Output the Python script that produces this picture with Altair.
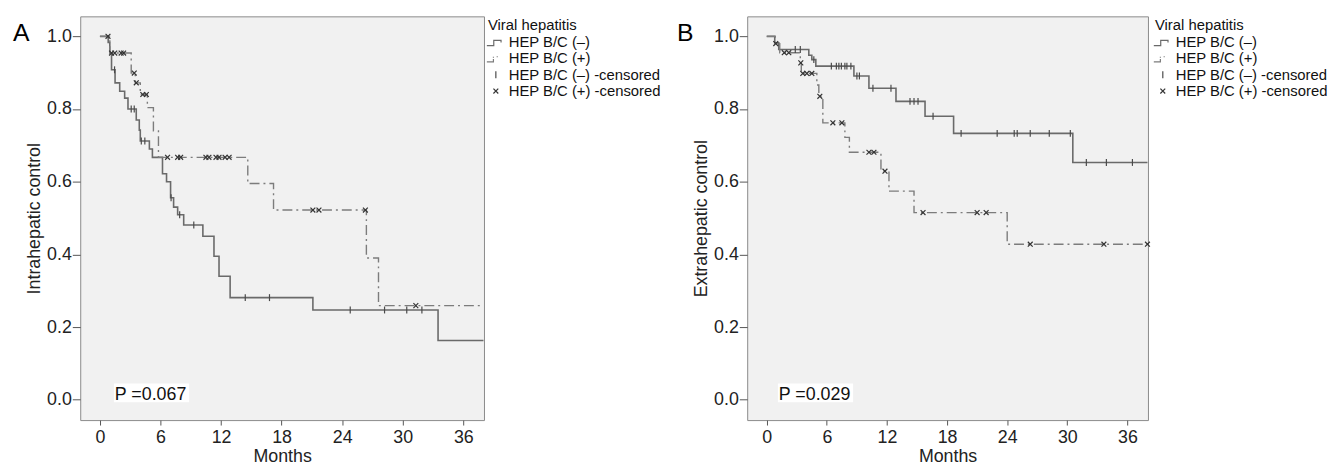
import altair as alt
import pandas as pd
import numpy as np

FONT = "Liberation Sans"

LEGEND_LABELS = ["HEP B/C (–)", "HEP B/C (+)", "HEP B/C (–) -censored", "HEP B/C (+) -censored"]
LEGEND_SHAPES = [
    "M-1.3,0.5H-0.3V-0.25H0.75V0.05",
    "M-1.3,0.5H-0.35V0.1M-0.35,-0.1V-0.25M0.2,-0.3V-0.15",
    "M0,-0.5V0.5",
    "M-0.35,-0.35L0.35,0.35M-0.35,0.35L0.35,-0.35",
]
LEGEND_COLORS = ["#6a6a6a", "#7c7c7c", "#4a4a4a", "#333333"]

X_TICKS = [0, 6, 12, 18, 24, 30, 36]
Y_TICKS = [0.0, 0.2, 0.4, 0.6, 0.8, 1.0]

# ---- Panel A: intrahepatic control ----
a_neg_t = [0, 0.82, 0.98, 1.15, 1.5, 1.96, 2.45, 2.78, 3.6, 3.9, 4.0, 4.9, 5.2, 6.2, 6.6, 7.0, 7.3,
           7.7, 8.3, 10.2, 11.3, 11.8, 12.9, 21.1, 33.5, 38.0]
a_neg_s = [1.0, 0.983, 0.954, 0.908, 0.872, 0.849, 0.83, 0.80, 0.77, 0.742, 0.712, 0.69, 0.667, 0.622,
           0.60, 0.556, 0.53, 0.509, 0.481, 0.45, 0.395, 0.34, 0.281, 0.247, 0.163, 0.163]
a_neg_cens = [1.45, 3.1, 3.4, 4.1, 4.45, 7.05, 7.9, 9.3, 14.4, 16.8, 24.8, 28.2, 30.4, 31.9]

a_pos_t = [0, 0.98, 3.1, 3.5, 4.0, 4.7, 5.3, 5.8, 14.65, 17.2, 26.4, 27.6, 38.0]
a_pos_s = [1.0, 0.954, 0.899, 0.872, 0.84, 0.804, 0.74, 0.667, 0.595, 0.522, 0.39, 0.259, 0.259]
a_pos_cens = [0.8, 1.15, 1.47, 2.1, 2.35, 3.4, 3.6, 4.25, 4.6, 6.7, 7.7, 8.0, 10.5, 10.8, 11.5, 11.8,
              12.4, 12.8, 21.1, 21.7, 26.3, 31.3]

# ---- Panel B: extrahepatic control ----
b_neg_t = [0, 0.8, 1.2, 4.2, 4.5, 4.9, 8.7, 10.2, 12.9, 15.8, 18.65, 30.55, 38.0]
b_neg_s = [1.0, 0.982, 0.964, 0.948, 0.936, 0.918, 0.891, 0.857, 0.821, 0.78, 0.733, 0.653, 0.653]
b_neg_cens = [2.85, 3.35, 4.7, 6.45, 6.95, 7.2, 7.45, 7.8, 8.0, 8.4, 9.0, 9.25, 10.6, 12.4, 14.3, 14.7,
              15.1, 16.6, 19.4, 23.0, 24.7, 25.0, 26.3, 28.2, 30.3, 31.9, 33.9, 36.5]

b_pos_t = [0, 0.85, 1.3, 3.35, 3.45, 5.0, 5.2, 5.6, 7.8, 8.25, 11.4, 12.2, 14.7, 24.0, 38.0]
b_pos_s = [1.0, 0.98, 0.955, 0.927, 0.898, 0.866, 0.835, 0.762, 0.722, 0.681, 0.629, 0.574, 0.515,
           0.428, 0.428]
b_pos_cens = [0.9, 1.75, 2.2, 3.4, 3.6, 4.0, 4.5, 5.3, 6.6, 7.5, 10.2, 10.7, 11.8, 15.6, 21.0, 21.9,
              26.3, 33.65, 38.0]


def level_at(ts, ss, times):
    idx = np.searchsorted(np.array(ts), np.array(times), side="right") - 1
    return [ss[i] for i in idx]


def panel(neg_t, neg_s, neg_c, pos_t, pos_s, pos_c, ytitle, letter, ptext, width, letter_x, box_x):
    xs = alt.Scale(domain=[-1.95, 38.05], nice=False, zero=False)
    ys = alt.Scale(domain=[-0.056, 1.055], nice=False, zero=False)
    xax = alt.Axis(values=X_TICKS, title="Months", tickSize=5, labelPadding=4, titlePadding=1,
                   labelFlush=False, labelOverlap=False)
    yax = alt.Axis(values=Y_TICKS, title=ytitle, format=".1f", tickSize=8, labelPadding=1,
                   titlePadding=3, labelOverlap=False)

    df_neg = pd.DataFrame({"t": neg_t, "s": neg_s})
    df_pos = pd.DataFrame({"t": pos_t, "s": pos_s})
    df_c = pd.DataFrame({
        "t": list(neg_c) + list(pos_c),
        "s": level_at(neg_t, neg_s, neg_c) + level_at(pos_t, pos_s, pos_c),
        "label": [LEGEND_LABELS[2]] * len(neg_c) + [LEGEND_LABELS[3]] * len(pos_c),
    })

    line_neg = alt.Chart(df_neg).mark_line(
        interpolate="step-after", color="#6a6a6a", strokeWidth=1.6
    ).encode(x=alt.X("t:Q", scale=xs, axis=xax), y=alt.Y("s:Q", scale=ys, axis=yax))

    line_pos = alt.Chart(df_pos).mark_line(
        interpolate="step-after", color="#7c7c7c", strokeWidth=1.4, strokeDash=[10, 4, 2, 4]
    ).encode(x=alt.X("t:Q", scale=xs), y=alt.Y("s:Q", scale=ys))

    leg = alt.Legend(
        title="Viral hepatitis", orient="none", legendX=412, legendY=2,
        titleFontSize=15, titleFontWeight="normal", titleColor="#111", titleFont=FONT,
        labelFontSize=15, labelColor="#111", labelFont=FONT, labelLimit=300,
        symbolSize=196, symbolStrokeWidth=1.2, rowPadding=0.5, titlePadding=1,
        labelOffset=5, padding=0,
    )
    cens = alt.Chart(df_c).mark_point(filled=False, size=196, strokeWidth=1.2, opacity=1).encode(
        x=alt.X("t:Q", scale=xs),
        y=alt.Y("s:Q", scale=ys),
        shape=alt.Shape("label:N", scale=alt.Scale(domain=LEGEND_LABELS, range=LEGEND_SHAPES), legend=leg),
        color=alt.Color("label:N", scale=alt.Scale(domain=LEGEND_LABELS, range=LEGEND_COLORS), legend=leg),
    )

    letter_mark = alt.Chart(pd.DataFrame({"txt": [letter]})).mark_text(
        align="left", baseline="alphabetic", fontSize=25, font=FONT, color="#000"
    ).encode(x=alt.value(letter_x), y=alt.value(25), text="txt:N")

    box = alt.Chart(pd.DataFrame({"p": [ptext]})).mark_rect(color="white").encode(
        x=alt.value(box_x), x2=alt.value(box_x + 76), y=alt.value(371), y2=alt.value(390)
    )
    ptxt = alt.Chart(pd.DataFrame({"p": [ptext]})).mark_text(
        align="left", baseline="alphabetic", fontSize=18, font=FONT, color="#111"
    ).encode(x=alt.value(box_x + 1), y=alt.value(388), text="p:N")

    return alt.layer(line_neg, line_pos, cens, box, ptxt, letter_mark).properties(width=width, height=408)


pa = panel(a_neg_t, a_neg_s, a_neg_cens, a_pos_t, a_pos_s, a_pos_cens,
           "Intrahepatic control", "A", "P =0.067", 408, -68, 34)
pb = panel(b_neg_t, b_neg_s, b_neg_cens, b_pos_t, b_pos_s, b_pos_cens,
           "Extrahepatic control", "B", "P =0.029", 405, -71, 31)

chart = alt.hconcat(pa, pb, spacing=266, bounds="flush").resolve_scale(
    x="independent", y="independent", shape="independent", color="independent"
).resolve_legend(shape="independent", color="independent").configure(
    font=FONT, padding={"left": 4, "top": 5, "right": 5, "bottom": 2}
).configure_view(
    fill="#f1f1f1", stroke="#8a8a8a", strokeWidth=1
).configure_axis(
    labelFont=FONT, titleFont=FONT, labelFontSize=18, titleFontSize=18,
    titleFontWeight="normal", labelColor="#222", titleColor="#222",
    tickColor="#555", tickWidth=1, domain=False, grid=False
)

chart.save("out.html", embed_options={"renderer": "svg", "actions": False})
